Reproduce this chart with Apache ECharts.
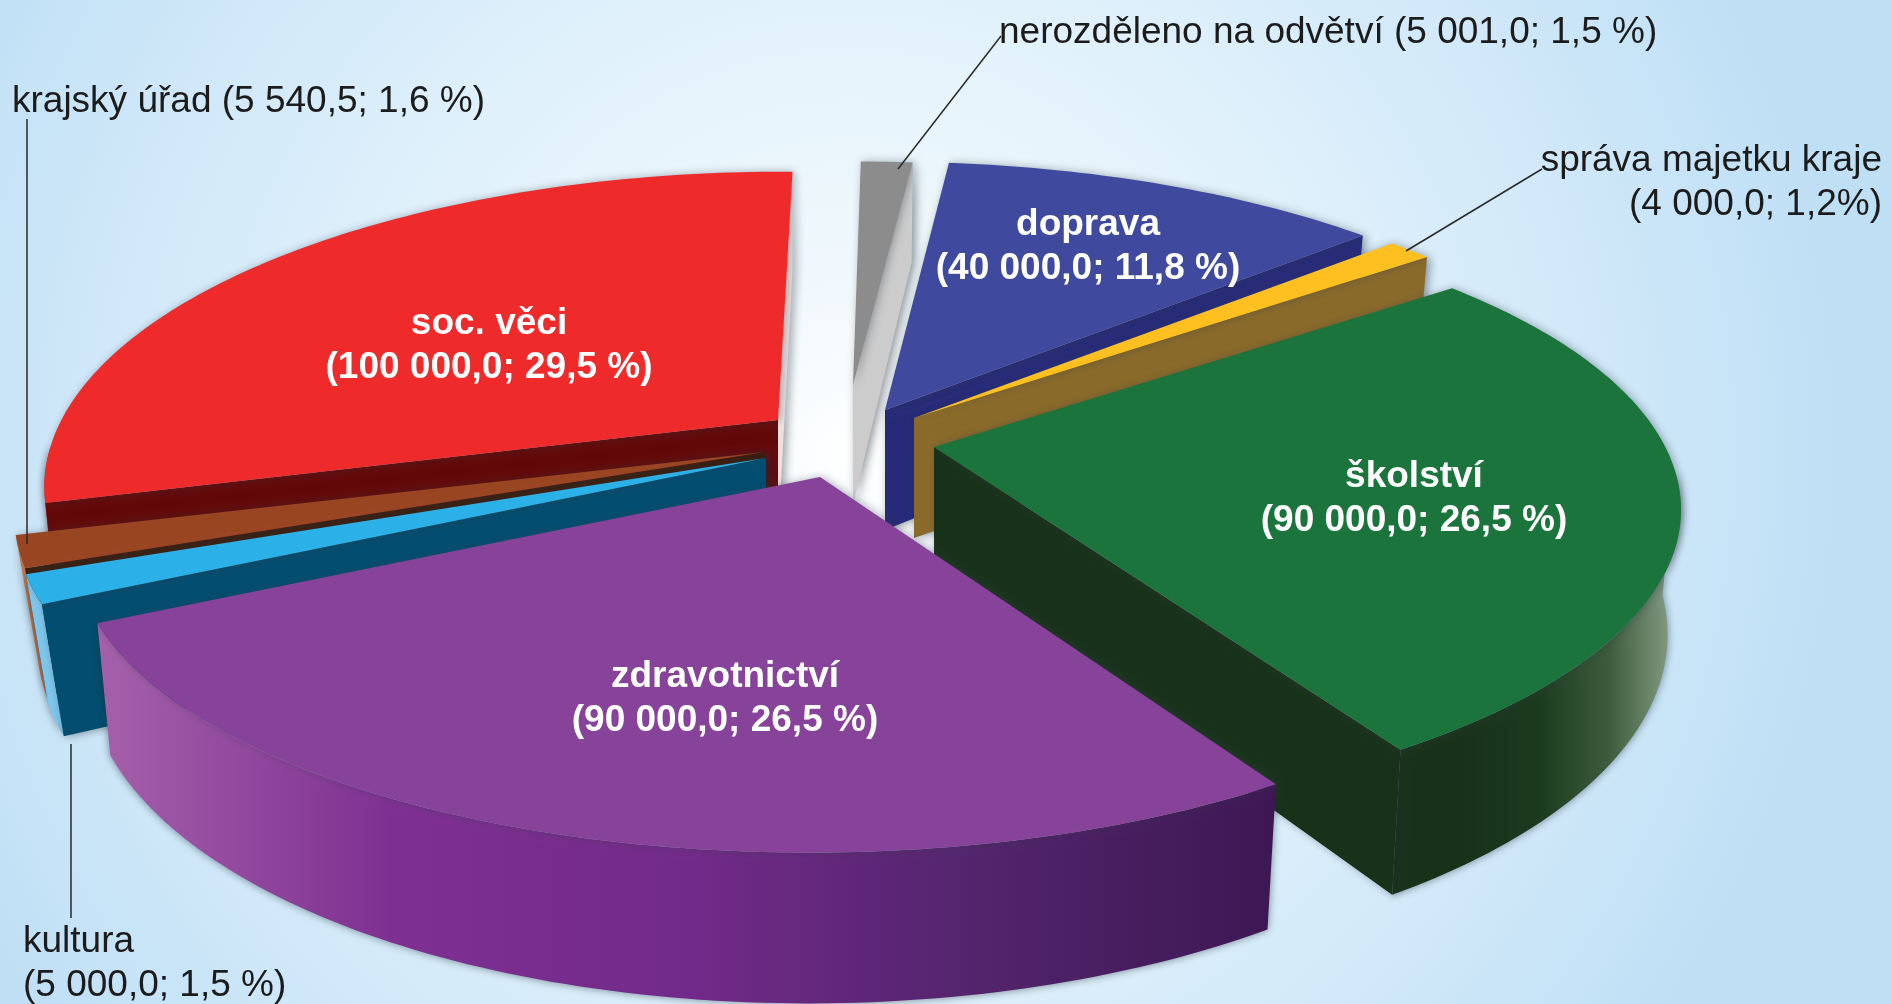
<!DOCTYPE html>
<html>
<head>
<meta charset="utf-8">
<style>
  html, body { margin: 0; padding: 0; background: #e4f2fb; }
  #main { width: 1892px; height: 1004px; }
</style>
<script src="https://cdn.jsdelivr.net/npm/echarts@6/dist/echarts.min.js"></script>
</head>
<body>
<div id="main"></div>
<script>
// data, in pie order (clockwise from the top)
const categories = ['doprava', 'správa majetku kraje', 'školství', 'zdravotnictví', 'kultura', 'krajský úřad', 'soc. věci', 'nerozděleno na odvětví'];
const values = [40000, 4000, 90000, 90000, 5000, 5540.5, 100000, 5001];
const labels = [
  '(40 000,0; 11,8 %)', '(4 000,0; 1,2%)', '(90 000,0; 26,5 %)', '(90 000,0; 26,5 %)',
  '(5 000,0; 1,5 %)', '(5 540,5; 1,6 %)', '(100 000,0; 29,5 %)', '(5 001,0; 1,5 %)'
];

// painter order, back to front
const drawOrder = [7, 6, 0, 1, 5, 4, 2, 3];

// look of each slice: apex position on screen (exploded), top/wall colours, rim gradient
// lean, scale and scaleY bend a slice a little, the original picture is not a clean projection
const sliceStyle = [
  { apex: [885, 410], top: '#3f4a9e', wall: '#262a78', rim: ['#262a78', '#262a78'], scale: 0.985 },
  { apex: [914, 418], top: '#fdc020', wall: '#8a6a2a', rim: ['#8a6a2a', '#8a6a2a'], scale: 0.985 },
  { apex: [934, 447], top: '#1b743c', wall: '#18321a', rim: ['#18321a', '#18321a', '#1a3a1e', '#3c5c3c', '#8fa58f'], scale: 0.995, scaleY: 0.985 },
  { apex: [820, 477], top: '#87429a', wall: '#3d1753', rim: ['#a560aa', '#7e3092', '#722a8a', '#52246c', '#3d1753'], lean: 0.03, scale: 0.992 },
  { apex: [766, 458], top: '#2cb0e8', wall: '#024d70', rim: ['#7cc6ee', '#7cc6ee'], converge: 0.03 },
  { apex: [765, 452], top: '#9a4522', wall: '#3a1a0a', rim: ['#c87a50', '#c87a50'], converge: 0.03 },
  { apex: [778, 420], top: '#ee2b2a', wall: '#630809', endWall: '#efdfdf', rim: ['#ee2b2a', '#ee2b2a'], lean: 0.025, scale: 0.975 },
  { apex: [853, 385], top: '#8c8c8c', wall: '#cccccc', rim: ['#8c8c8c', '#8c8c8c'], scale: 0.92, scaleY: 0.9 }
];

// projection of the pie disc
const startAngle = 6.1;
const radiusX = 735;
const radiusY = 299;
const thickness = 120;
const perspective = 0.204;
const converge = 0.018;

const total = values.reduce((a, b) => a + b, 0);
const startOf = [];
values.reduce((acc, v, i) => {
  startOf[i] = acc;
  return acc + v / total * 360;
}, startAngle);

// angle in degrees clockwise from the top, r 0..1, low = 1 for the underside
function project(st, deg, r, low) {
  const t = deg * Math.PI / 180;
  const x = r * Math.sin(t);
  const y = r * Math.cos(t);
  const s = 1 / (1 + perspective * y);
  const py = radiusY * y * s * (st.scaleY || 1);
  const conv = st.converge || converge;
  return [
    st.apex[0] + radiusX * x * s * (st.scale || 1) * (1 - conv * low) + (st.lean || 0) * py,
    st.apex[1] - py + thickness * s * low
  ];
}

function arc(st, from, to, low) {
  const pts = [];
  const n = Math.max(2, Math.ceil(Math.abs(to - from)));
  for (let k = 0; k <= n; k++) {
    pts.push(project(st, from + (to - from) * k / n, 1, low));
  }
  return pts;
}

function radialWall(st, deg, color) {
  return {
    type: 'polygon',
    shape: { points: [project(st, deg, 0, 0), project(st, deg, 1, 0), project(st, deg, 1, 1), project(st, deg, 0, 1)] },
    style: { fill: color, shadowBlur: 10, shadowOffsetX: 3, shadowColor: 'rgba(30,40,50,0.5)' }
  };
}

function renderSlice(params, api) {
  const i = api.value(0);
  const st = sliceStyle[i];
  const from = startOf[i];
  const to = from + api.value(1) / total * 360;
  const norm = d => ((d % 360) + 360) % 360;
  const children = [];

  // outer rim, only the part facing the viewer
  const rimFrom = Math.max(from, 95);
  const rimTo = Math.min(to, 265);
  if (rimTo > rimFrom) {
    const stops = st.rim.map((c, k) => ({ offset: k / (st.rim.length - 1), color: c }));
    children.push({
      type: 'polygon',
      shape: { points: arc(st, rimFrom, rimTo, 0).concat(arc(st, rimTo, rimFrom, 1)) },
      style: {
        fill: new echarts.graphic.LinearGradient(0, 0, 1, 0, stops),
        shadowBlur: 9,
        shadowColor: 'rgba(30,40,50,0.55)'
      }
    });
  }

  // cut faces
  if (norm(from) > 180) children.push(radialWall(st, from, st.wall));
  if (norm(to) < 180) children.push(radialWall(st, to, st.endWall || st.wall));

  // top face
  children.push({
    type: 'polygon',
    shape: { points: [project(st, from, 0, 0)].concat(arc(st, from, to, 0)) },
    style: { fill: st.top, shadowBlur: 8, shadowOffsetX: 2, shadowColor: 'rgba(50,60,70,0.4)' }
  });
  return { type: 'group', children: children };
}

const textFont = '"Liberation Sans", Arial, sans-serif';

function outerText(x, y, text, align) {
  return {
    type: 'text', x: x, y: y, z: 100,
    style: { text: text, font: '37px ' + textFont, fill: '#1c1c1c', align: align || 'left', verticalAlign: 'middle', lineHeight: 44 }
  };
}
function innerText(x, y, i) {
  return {
    type: 'text', x: x, y: y, z: 100,
    style: { text: categories[i] + '\n' + labels[i], font: 'bold 37px ' + textFont, fill: '#ffffff', align: 'center', verticalAlign: 'middle', lineHeight: 44 }
  };
}
function leader(x1, y1, x2, y2) {
  return {
    type: 'line', z: 99,
    shape: { x1: x1, y1: y1, x2: x2, y2: y2 },
    style: { stroke: '#2a2a2a', lineWidth: 1.5 }
  };
}

const chart = echarts.init(document.getElementById('main'));
chart.setOption({
  animation: false,
  backgroundColor: new echarts.graphic.RadialGradient(0.45, 0.45, 1, [
    { offset: 0, color: '#ffffff' },
    { offset: 0.15, color: '#f2f9fd' },
    { offset: 0.45, color: '#e2f2fb' },
    { offset: 0.75, color: '#d0e8f9' },
    { offset: 1, color: '#bfdff5' }
  ]),
  series: [{
    type: 'custom',
    coordinateSystem: 'none',
    silent: true,
    renderItem: renderSlice,
    data: drawOrder.map(i => [i, values[i]])
  }],
  graphic: [
    leader(27, 119, 27, 544),
    leader(71, 744, 71, 918),
    leader(1001, 36, 898, 169),
    leader(1542, 169, 1406, 251),
    innerText(1088, 247, 0),
    innerText(1414, 499, 2),
    innerText(725, 699, 3),
    innerText(489, 346, 6),
    outerText(12, 102, categories[5] + ' ' + labels[5]),
    outerText(999, 33, categories[7] + ' ' + labels[7]),
    outerText(1882, 183, categories[1] + '\n' + labels[1], 'right'),
    outerText(23, 964, categories[4] + '\n' + labels[4])
  ]
});
</script>
</body>
</html>
